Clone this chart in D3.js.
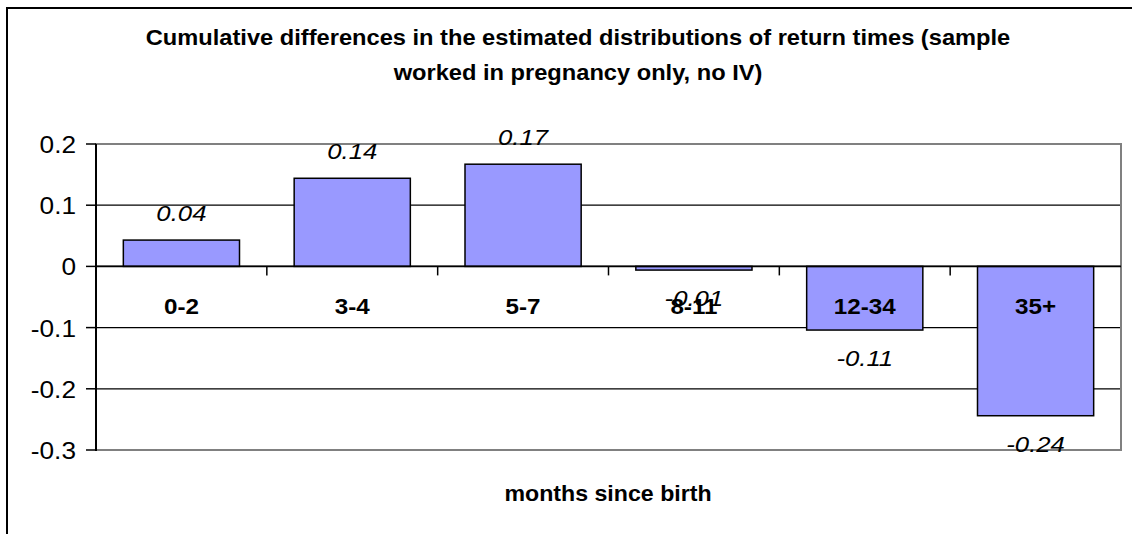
<!DOCTYPE html>
<html>
<head>
<meta charset="utf-8">
<script src="https://cdn.jsdelivr.net/npm/d3@7"></script>
<style>
  html, body { margin: 0; padding: 0; background: #fff; }
  svg { display: block; font-family: "Liberation Sans", Arial, sans-serif; }
</style>
</head>
<body>
<div id="chart"></div>
<script>
const categories = ["0-2", "3-4", "5-7", "8-11", "12-34", "35+"];
const values = [0.043, 0.144, 0.167, -0.006, -0.104, -0.244];
const valueLabels = ["0.04", "0.14", "0.17", "-0.01", "-0.11", "-0.24"];
const yTicks = [0.2, 0.1, 0, -0.1, -0.2, -0.3];
const yTickLabels = ["0.2", "0.1", "0", "-0.1", "-0.2", "-0.3"];
const titleLines = [
  "Cumulative differences in the estimated distributions of return times (sample",
  "worked in pregnancy only, no IV)"
];
const xTitle = "months since birth";

const width = 1132;
const height = 534;
const margin = { top: 144, right: 11, bottom: 84, left: 96 };

const svg = d3.select("#chart")
  .append("svg")
  .attr("width", width)
  .attr("height", height);

// outer chart frame (runs off the right / bottom edge)
svg.append("rect")
  .attr("x", 7)
  .attr("y", 8)
  .attr("width", width + 20)
  .attr("height", height + 20)
  .attr("fill", "#fff")
  .attr("stroke", "#000")
  .attr("stroke-width", 2);

const x = d3.scaleBand()
  .domain(categories)
  .range([margin.left, width - margin.right])
  .paddingInner(0.32)
  .paddingOuter(0.16);

const y = d3.scaleLinear()
  .domain([-0.3, 0.2])
  .range([height - margin.bottom, margin.top]);

// the original text is rendered a little wider than the font's own metrics
function stretchedText(sel, tx, ty, sx) {
  return sel.attr("transform", `translate(${tx},${ty}) scale(${sx},1)`);
}

// titles
titleLines.forEach(function (line, i) {
  svg.append("text")
    .call(stretchedText, 578, 45 + i * 35, 1.1)
    .attr("text-anchor", "middle")
    .attr("font-size", 21.5)
    .attr("font-weight", "bold")
    .attr("fill", "#000")
    .text(line);
});

// gridlines
svg.append("g")
  .selectAll("line")
  .data(yTicks.filter(function (d) { return d !== 0.2 && d !== -0.3; }))
  .join("line")
  .attr("x1", margin.left)
  .attr("x2", width - margin.right)
  .attr("y1", function (d) { return y(d); })
  .attr("y2", function (d) { return y(d); })
  .attr("stroke", "#000")
  .attr("stroke-width", 1.3);

// plot area border (gray)
svg.append("rect")
  .attr("x", margin.left)
  .attr("y", margin.top)
  .attr("width", width - margin.right - margin.left)
  .attr("height", y(-0.3) - y(0.2))
  .attr("fill", "none")
  .attr("stroke", "#808080")
  .attr("stroke-width", 2);

// bars
svg.append("g")
  .selectAll("rect")
  .data(values)
  .join("rect")
  .attr("x", function (d, i) { return x(categories[i]); })
  .attr("width", x.bandwidth())
  .attr("y", function (d) { return y(Math.max(0, d)); })
  .attr("height", function (d) { return Math.abs(y(d) - y(0)); })
  .attr("fill", "#9999ff")
  .attr("stroke", "#000")
  .attr("stroke-width", 1.5);

// zero axis + category ticks
svg.append("line")
  .attr("x1", margin.left)
  .attr("x2", width - margin.right)
  .attr("y1", y(0))
  .attr("y2", y(0))
  .attr("stroke", "#000")
  .attr("stroke-width", 1.6);

svg.append("g")
  .selectAll("line")
  .data(categories.slice(1))
  .join("line")
  .attr("x1", function (d) { return x(d) - x.step() * x.paddingInner() / 2; })
  .attr("x2", function (d) { return x(d) - x.step() * x.paddingInner() / 2; })
  .attr("y1", y(0))
  .attr("y2", y(0) + 9)
  .attr("stroke", "#000")
  .attr("stroke-width", 1.5);

// y axis
svg.append("line")
  .attr("x1", margin.left)
  .attr("x2", margin.left)
  .attr("y1", y(0.2))
  .attr("y2", y(-0.3) + 1)
  .attr("stroke", "#000")
  .attr("stroke-width", 2);

const yAxis = svg.append("g");
yAxis.selectAll("line")
  .data(yTicks)
  .join("line")
  .attr("x1", margin.left - 10)
  .attr("x2", margin.left)
  .attr("y1", function (d) { return y(d); })
  .attr("y2", function (d) { return y(d); })
  .attr("stroke", "#000")
  .attr("stroke-width", 1.5);

yAxis.selectAll("text")
  .data(yTicks)
  .join("text")
  .each(function (d) {
    d3.select(this).call(stretchedText, margin.left - 20, y(d) + 9, 1.14);
  })
  .attr("text-anchor", "end")
  .attr("font-size", 23)
  .attr("fill", "#000")
  .text(function (d, i) { return yTickLabels[i]; });

// category labels
svg.append("g")
  .selectAll("text")
  .data(categories)
  .join("text")
  .each(function (d) {
    d3.select(this).call(stretchedText, x(d) + x.bandwidth() / 2, y(0) + 48, 1.1);
  })
  .attr("text-anchor", "middle")
  .attr("font-size", 22)
  .attr("font-weight", "bold")
  .attr("fill", "#000")
  .text(function (d) { return d; });

// value labels
svg.append("g")
  .selectAll("text")
  .data(values)
  .join("text")
  .each(function (d, i) {
    const cx = x(categories[i]) + x.bandwidth() / 2;
    const cy = d >= 0 ? y(d) - 19 : y(d) + 36;
    d3.select(this).call(stretchedText, cx, cy, 1.17);
  })
  .attr("text-anchor", "middle")
  .attr("font-size", 22)
  .attr("font-style", "italic")
  .attr("fill", "#000")
  .text(function (d, i) { return valueLabels[i]; });

// x axis title
svg.append("text")
  .call(stretchedText, 608, 501, 1.03)
  .attr("text-anchor", "middle")
  .attr("font-size", 22.5)
  .attr("font-weight", "bold")
  .attr("fill", "#000")
  .text(xTitle);
</script>
</body>
</html>
